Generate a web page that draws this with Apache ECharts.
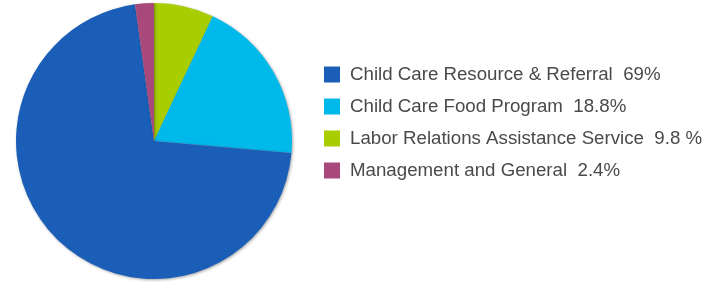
<!DOCTYPE html>
<html>
<head>
<meta charset="utf-8">
<script src="https://cdn.jsdelivr.net/npm/echarts@6/dist/echarts.min.js"></script>
<style>
  html, body { margin: 0; padding: 0; background: #fff; }
  #main { width: 706px; height: 282px; }
</style>
</head>
<body>
<div id="main"></div>
<script>
// slices in drawing order (clockwise from 12 o'clock), sizes
var names = ['Labor Relations Assistance Service', 'Child Care Food Program', 'Child Care Resource & Referral', 'Management and General'];
var values = [7.0, 19.4, 71.4, 2.2];
var colors = ['#a8cd00', '#00b9eb', '#1b5eb8', '#a9487a'];
// legend order and the percentages printed next to each name
var legendOrder = ['Child Care Resource & Referral', 'Child Care Food Program', 'Labor Relations Assistance Service', 'Management and General'];
var legendPct = ['69%', '18.8%', '9.8 %', '2.4%'];

var myChart = echarts.init(document.getElementById('main'));

var pieData = names.map(function (n, i) {
    return { name: n, value: values[i], itemStyle: { color: colors[i] } };
});

var option = {
    animation: false,
    legend: {
        orient: 'vertical',
        left: 324,
        top: 65,
        padding: 0,
        itemWidth: 16,
        itemHeight: 16,
        itemGap: 13,
        icon: 'rect',
        data: legendOrder,
        formatter: function (name) {
            return name + '  ' + legendPct[legendOrder.indexOf(name)];
        },
        textStyle: {
            fontFamily: 'Liberation Sans',
            fontSize: 18.7,
            lineHeight: 16,
            height: 16,
            color: '#4a4a4a',
            padding: [0, 0, 0, 5]
        },
        selectedMode: false
    },
    series: [{
        type: 'pie',
        center: [154, 141],
        radius: [0, 138],
        startAngle: 90,
        clockwise: true,
        label: { show: false },
        labelLine: { show: false },
        emphasis: { disabled: true },
        itemStyle: {
            borderWidth: 0,
            shadowBlur: 3,
            shadowOffsetX: 1,
            shadowOffsetY: 1,
            shadowColor: 'rgba(0,0,0,0.35)'
        },
        data: pieData
    }]
};

myChart.setOption(option);
</script>
</body>
</html>
